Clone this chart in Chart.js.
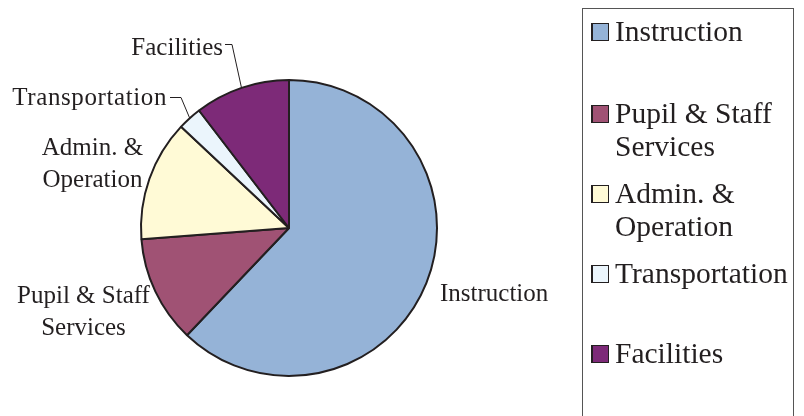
<!DOCTYPE html>
<html>
<head>
<meta charset="utf-8">
<script src="https://cdn.jsdelivr.net/npm/chart.js@4/dist/chart.umd.min.js"></script>
<style>
html,body{margin:0;padding:0;background:#fff;}
#wrap{position:relative;width:804px;height:416px;}
</style>
</head>
<body>
<div id="wrap"><canvas id="c" width="804" height="416"></canvas></div>
<script>
// ---- data ----
const categories = ["Instruction", "Pupil & Staff Services", "Admin. & Operation", "Transportation", "Facilities"];
const labelLines = [["Instruction"], ["Pupil & Staff", "Services"], ["Admin. &", "Operation"], ["Transportation"], ["Facilities"]];
const shares = [62.1, 11.7, 13.2, 2.6, 10.4];
const colors = ["#95B3D7", "#A05274", "#FFFAD6", "#EBF5FC", "#7D2A78"];

const INK = "#231f20";

// outside label placement relative to pie centre (style, not data)
const labelPlace = [
  {dx: 151, dy: 73, align: "left", ls: 0},
  {dx: -205.5, dy: 75, align: "center", ls: 0},
  {dx: -196.5, dy: -73, align: "center", ls: 0},
  {dx: -122, dy: -123, align: "right", ls: 0.6},
  {dx: -66, dy: -173, align: "right", ls: 0}
];
// leader lines: horizontal stub start/end relative to centre, then to slice mid-edge
const leaders = {
  3: {x0: -119, x1: -108, y: -130.5},
  4: {x0: -64, x1: -57, y: -183.5}
};

const labelPlugin = {
  id: "labels",
  afterDraw(chart) {
    const ctx = chart.ctx;
    const meta = chart.getDatasetMeta(0);
    const a0 = meta.data[0].getProps(["x", "y", "outerRadius"], true);
    const cx = a0.x, cy = a0.y, R = a0.outerRadius;
    ctx.save();
    ctx.fillStyle = INK;
    ctx.font = "25px 'Liberation Serif'";
    ctx.textBaseline = "alphabetic";
    labelLines.forEach((lines, i) => {
      const p = labelPlace[i];
      ctx.textAlign = p.align;
      ctx.letterSpacing = p.ls + "px";
      lines.forEach((t, k) => ctx.fillText(t, cx + p.dx, cy + p.dy + k * 32));
    });
    ctx.letterSpacing = "0px";
    // leaders
    ctx.strokeStyle = INK;
    ctx.lineWidth = 1;
    Object.keys(leaders).forEach(k => {
      const i = +k, L = leaders[k];
      const arc = meta.data[i].getProps(["startAngle", "endAngle"], true);
      const mid = (arc.startAngle + arc.endAngle) / 2;
      const ex = cx + Math.cos(mid) * R, ey = cy + Math.sin(mid) * R;
      ctx.beginPath();
      ctx.moveTo(cx + L.x0, cy + L.y);
      ctx.lineTo(cx + L.x1, cy + L.y);
      ctx.lineTo(ex, ey);
      ctx.stroke();
    });
    // legend box
    ctx.strokeStyle = "#555";
    ctx.lineWidth = 1;
    ctx.strokeRect(582.5, 8.5, 211, 430);
    const baselines = [41, 123, 203, 283, 363];
    ctx.font = "29.5px 'Liberation Serif'";
    ctx.textAlign = "left";
    categories.forEach((c, i) => {
      const b = baselines[i];
      ctx.fillStyle = colors[i];
      ctx.fillRect(591, b - 18, 18, 18);
      ctx.strokeStyle = INK;
      ctx.lineWidth = 1;
      ctx.strokeRect(591.5, b - 17.5, 17, 17);
      ctx.fillStyle = INK;
      ctx.fillRect(591, b - 18, 2, 18);
      labelLines[i].forEach((t, k) => ctx.fillText(t, 615, b + k * 33));
    });
    ctx.restore();
  }
};

new Chart(document.getElementById("c"), {
  type: "pie",
  data: {
    labels: categories,
    datasets: [{
      data: shares,
      backgroundColor: colors,
      borderColor: INK,
      borderWidth: 2
    }]
  },
  options: {
    responsive: false,
    animation: false,
    layout: {padding: {left: 140, right: 366, top: 79, bottom: 39}},
    plugins: {legend: {display: false}, tooltip: {enabled: false}}
  },
  plugins: [labelPlugin]
});
</script>
</body>
</html>
